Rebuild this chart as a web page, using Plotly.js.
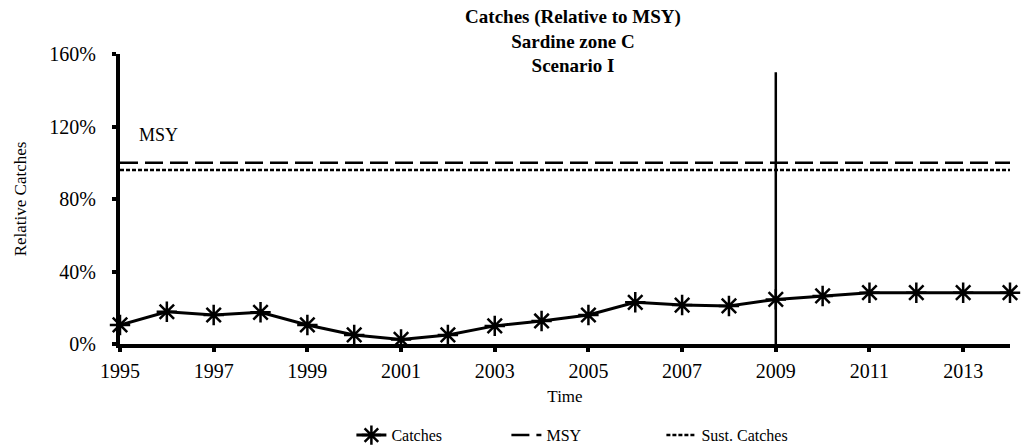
<!DOCTYPE html>
<html>
<head>
<meta charset="utf-8">
<script src="https://cdn.plot.ly/plotly-3.0.1.min.js"></script>
<style>html,body{margin:0;padding:0;background:#fff;}#chart{width:1029px;height:445px;}</style>
</head>
<body>
<div id="chart"></div>
<script>
const years = [1995,1996,1997,1998,1999,2000,2001,2002,2003,2004,2005,2006,2007,2008,2009,2010,2011,2012,2013,2014];
const catches = [10.5,17.8,16,17.5,10.5,5,2.5,5,10,12.7,16,23,21.5,21,24.6,26.5,28.3,28.3,28.3,28.3];
const msyYears = [1995,2014];
const msyValues = [100,100];
const sustValues = [96,96];
const markerYear = [2009,2009];
const markerRange = [0,150];
const titleLines = ['Catches (Relative to MSY)', 'Sardine zone C', 'Scenario I'];

const serif = "'Liberation Serif', 'Times New Roman', serif";

const data = [
  {x: years, y: catches, name: 'Catches', type: 'scatter', mode: 'lines+markers',
   line: {color: '#000', width: 3},
   marker: {symbol: 'asterisk-open', size: 17, color: '#000', line: {color: '#000', width: 2.5}},
   cliponaxis: false},
  {x: msyYears, y: msyValues, name: 'MSY', type: 'scatter', mode: 'lines',
   line: {color: '#000', width: 2.5, dash: '18px,7px'}},
  {x: msyYears, y: sustValues, name: 'Sust. Catches', type: 'scatter', mode: 'lines',
   line: {color: '#000', width: 2.5, dash: '4px,2px'}},
  {x: markerYear, y: markerRange, name: '', type: 'scatter', mode: 'lines', showlegend: false,
   line: {color: '#000', width: 2.5}, hoverinfo: 'skip'}
];

const layout = {
  width: 1029, height: 445,
  margin: {l: 120, r: 19, t: 54, b: 101},
  paper_bgcolor: '#fff', plot_bgcolor: '#fff',
  font: {family: serif, color: '#000', size: 16},
  title: {
    text: '<b>' + titleLines.join('<br>') + '</b>',
    font: {family: serif, size: 19, color: '#000'},
    x: 0.509, xref: 'paper', xanchor: 'center',
    y: 1 - 23/445, yref: 'container', yanchor: 'middle'
  },
  xaxis: {
    range: [1995, 2014], tick0: 1995, dtick: 2, tickmode: 'linear',
    showgrid: false, zeroline: false,
    showline: true, linecolor: '#000', linewidth: 4,
    ticks: 'outside', ticklen: 4, tickwidth: 4, tickcolor: '#000',
    tickfont: {family: serif, size: 20},
    ticklabelstandoff: 2,
    title: {text: 'Time', font: {family: serif, size: 17}, standoff: 10}
  },
  yaxis: {
    range: [0, 160], dtick: 40, tick0: 0, tickmode: 'linear',
    ticksuffix: '%',
    showgrid: false, zeroline: false,
    showline: true, linecolor: '#000', linewidth: 4,
    ticks: 'outside', ticklen: 4, tickwidth: 4, tickcolor: '#000',
    tickfont: {family: serif, size: 20},
    ticklabelstandoff: 12,
    title: {text: 'Relative Catches', font: {family: serif, size: 17}, standoff: 19}
  },
  legend: {
    orientation: 'h', x: 0.26, xanchor: 'left', xref: 'paper',
    y: 0.022, yref: 'container', yanchor: 'middle',
    font: {family: serif, size: 16},
    entrywidth: 110, entrywidthmode: 'pixels'
  },
  annotations: [
    {x: 1995.36, y: 115.3, xref: 'x', yref: 'y', text: 'MSY', showarrow: false,
     xanchor: 'left', yanchor: 'middle', font: {family: serif, size: 18, color: '#000'}}
  ],
  showlegend: true
};

Plotly.newPlot('chart', data, layout, {displayModeBar: false, staticPlot: true});
</script>
</body>
</html>
